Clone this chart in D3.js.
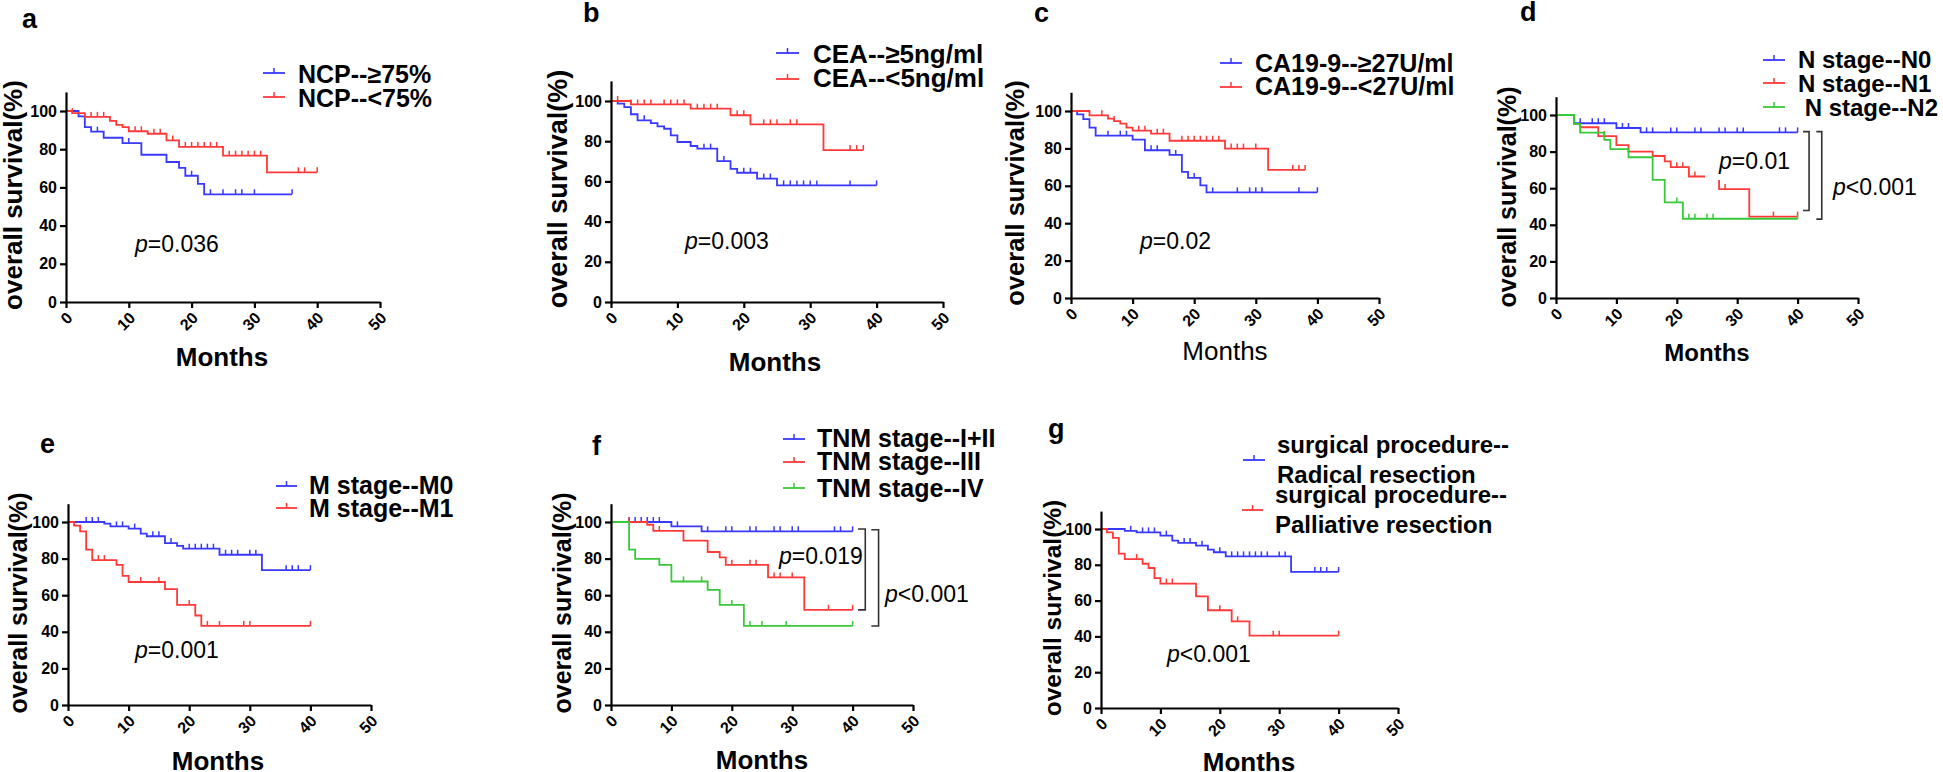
<!DOCTYPE html>
<html>
<head>
<meta charset="utf-8">
<title>Overall survival</title>
<style>
  body { margin: 0; background: #fff; }
  svg text { font-family: "Liberation Sans", Arial, sans-serif; fill: #000; }
</style>
</head>
<body>
<script src="https://cdnjs.cloudflare.com/ajax/libs/d3/7.8.5/d3.min.js"></script>
<script>

// ---- tick labels
var monthTicks = [0, 10, 20, 30, 40, 50];
var survTicks = [0, 20, 40, 60, 80, 100];

// ---- a: NCP
var aGroups = ["NCP--≥75%", "NCP--<75%"];
var aBlueT = [2, 3, 4, 6, 9, 12, 16, 18, 19, 21, 22];
var aBlueS = [97.2, 91.6, 89.2, 86.0, 83.2, 77.1, 73.3, 70.2, 66.1, 61.8, 56.4];
var aBlueC = [5, 10, 20, 23, 25, 27, 28, 30, 36];
var aRedT = [1, 3, 7, 8, 9, 10, 13, 16, 18, 25, 32];
var aRedS = [98.9, 96.9, 94.8, 92.7, 91.6, 89.4, 88.1, 84.6, 81.2, 76.6, 67.9];
var aRedC = [1, 4, 5, 6, 11, 12, 14, 15, 17, 19, 20, 21, 22, 23, 24, 26, 27, 28, 29, 30, 31, 37, 38, 40];

// ---- b: CEA
var bGroups = ["CEA--≥5ng/ml", "CEA--<5ng/ml"];
var bBlueT = [1, 2, 3, 4, 6, 7, 8, 9, 10, 12, 13, 16, 18, 19, 22, 25];
var bBlueS = [98.7, 97, 93.4, 90.4, 89, 87.4, 86.2, 82.9, 79.6, 77.6, 76.3, 70.1, 66.2, 64.3, 61.4, 58];
var bBlueC = [5, 14, 15, 17, 20, 21, 23, 24, 26, 27, 28, 29, 30, 31, 36, 40];
var bRedT = [3, 12, 18, 21, 32];
var bRedS = [98.3, 96.2, 92.9, 88.4, 75.6];
var bRedC = [1, 3, 4, 5, 6, 8, 9, 10, 11, 13, 14, 15, 16, 19, 20, 23, 24, 25, 27, 28, 36, 37, 38];

// ---- c: CA19-9
var cGroups = ["CA19-9--≥27U/ml", "CA19-9--<27U/ml"];
var cBlueT = [1, 2, 3, 4, 10, 12, 16, 18, 19, 21, 22];
var cBlueS = [98.2, 95.7, 91.1, 86.8, 84.7, 79, 76.5, 67.4, 64.2, 60.2, 56.5];
var cBlueC = [6, 8, 9, 13, 14, 17, 20, 23, 27, 29, 30, 31, 37, 40];
var cRedT = [3, 6, 7, 8, 9, 10, 13, 16, 25, 32];
var cRedS = [97.7, 95.9, 94.6, 93.2, 91.1, 89.5, 87.9, 84.1, 79.9, 68.5];
var cRedC = [5, 7, 11, 12, 14, 15, 18, 19, 20, 21, 22, 23, 24, 26, 27, 28, 30, 36, 37, 38];

// ---- d: N stage
var dGroups = ["N stage--N0", "N stage--N1", " N stage--N2"];
var dN0T = [3, 10, 14];
var dN0S = [95.5, 92.9, 90.5];
var dN0C = [4, 6, 7, 8, 11, 12, 15, 16, 19, 20, 23, 24, 27, 28, 30, 31, 37, 38, 40];
var dN1T = [3, 4, 7, 10, 12, 16, 18, 19, 22, 27, 32];
var dN1S = [95.1, 93.3, 88.5, 83.5, 80, 77.6, 74.7, 71.5, 66.4, 59.5, 44.5];
var dN1C = [8, 20, 21, 23, 28, 36, 40];
var dN2T = [3, 4, 8, 9, 12, 16, 18, 21];
var dN2S = [95.1, 90.4, 86.4, 81.3, 76.9, 64.5, 52.2, 43.3];
var dN2C = [20, 22, 23, 25, 26, 40];

// ---- e: M stage
var eGroups = ["M stage--M0", "M stage--M1"];
var eM0T = [6, 7, 10, 12, 13, 16, 18, 19, 25, 32];
var eM0S = [99.1, 97.6, 96.4, 93.6, 92.2, 88.5, 87, 85.4, 82.1, 73.7];
var eM0C = [3, 4, 5, 8, 9, 11, 14, 15, 17, 20, 21, 22, 23, 24, 26, 27, 28, 30, 31, 36, 37, 38, 40];
var eM1T = [1, 2, 3, 4, 8, 9, 10, 16, 18, 21, 22];
var eM1S = [98, 94.9, 84.9, 79.2, 76.6, 70.6, 67.2, 63.3, 54.7, 48.9, 43.2];
var eM1C = [5, 6, 12, 15, 20, 23, 25, 29, 30, 40];

// ---- f: TNM stage
var fGroups = ["TNM stage--I+II", "TNM stage--III", "TNM stage--IV"];
var fI2T = [10, 15];
var fI2S = [97.6, 94.9];
var fI2C = [3, 4, 5, 6, 7, 8, 11, 16, 19, 20, 23, 24, 27, 28, 30, 31, 37, 38, 40];
var fIIIT = [6, 7, 12, 16, 18, 19, 26, 32];
var fIIIS = [98.5, 95.1, 89.8, 83.6, 80.7, 76.6, 69.7, 52];
var fIIIC = [3, 8, 20, 23, 24, 27, 28, 30, 36, 40];
var fIVT = [3, 4, 8, 10, 16, 18, 22];
var fIVS = [84.9, 79.8, 76.6, 67.5, 62.9, 54.7, 43.2];
var fIVC = [12, 15, 20, 23, 25, 29, 40];

// ---- g: surgical procedure
var gGroups = [["surgical procedure--", "Radical resection"], ["surgical procedure--", "Palliative resection"]];
var gRadT = [4, 6, 10, 12, 13, 16, 18, 19, 21, 32];
var gRadS = [99, 98.1, 96.3, 93.5, 92.2, 90.7, 88.5, 87, 84.7, 76];
var gRadC = [5, 7, 8, 9, 11, 14, 15, 17, 20, 22, 23, 24, 25, 26, 27, 28, 30, 31, 36, 37, 38, 40];
var gPalT = [1, 2, 3, 4, 7, 8, 9, 10, 16, 18, 22, 25];
var gPalS = [98.1, 95, 86.2, 83.2, 80.6, 78.2, 72.6, 69.5, 62.4, 54.6, 48.4, 40.4];
var gPalC = [6, 11, 12, 20, 23, 29, 30, 40];

// ---- p values
var pA = ["=", "0.036"], pB = ["=", "0.003"], pC = ["=", "0.02"];
var pD = [["=", "0.01"], ["<", "0.001"]];
var pE = ["=", "0.001"];
var pF = [["=", "0.019"], ["<", "0.001"]];
var pG = ["<", "0.001"];

var BLUE = "#3838ff", RED = "#ff3838", GREEN = "#38c838";

var svg = d3.select("body").append("svg")
    .attr("width", 1943)
    .attr("height", 772);

function ser(t, s, c, color) {
    return {t: t, s: s, c: c, color: color};
}

var panels = [
    {label: "a", lx: 22, ly: 28, x0: 66, x50: 380, y0: 302, y100: 111,
     title: [13, 195, 26], months: [222, 366, 26, "bold"],
     series: [ser(aBlueT, aBlueS, aBlueC, BLUE), ser(aRedT, aRedS, aRedC, RED)],
     leg: {x1: 263, x2: 285, ys: [73, 97], tx: 298, tys: [83, 107], size: 25, names: aGroups},
     p: [[135, 252, pA]]},
    {label: "b", lx: 583, ly: 22, x0: 611, x50: 943, y0: 302, y100: 101,
     title: [558, 189, 27], months: [775, 371, 26, "bold"],
     series: [ser(bBlueT, bBlueS, bBlueC, BLUE), ser(bRedT, bRedS, bRedC, RED)],
     leg: {x1: 776, x2: 799, ys: [53, 79], tx: 813, tys: [63, 87], size: 26, names: bGroups},
     p: [[685, 249, pB]]},
    {label: "c", lx: 1034, ly: 22, x0: 1071, x50: 1379, y0: 298, y100: 111,
     title: [1015, 193, 25.5], months: [1225, 360, 26, "normal"],
     series: [ser(cBlueT, cBlueS, cBlueC, BLUE), ser(cRedT, cRedS, cRedC, RED)],
     leg: {x1: 1220, x2: 1242, ys: [63, 87], tx: 1255, tys: [72, 95], size: 25, names: cGroups},
     p: [[1140, 249, pC]]},
    {label: "d", lx: 1520, ly: 21, x0: 1556, x50: 1858, y0: 298, y100: 115,
     title: [1507, 197, 25], months: [1707, 361, 24, "bold"],
     series: [ser(dN0T, dN0S, dN0C, BLUE), ser(dN1T, dN1S, dN1C, RED), ser(dN2T, dN2S, dN2C, GREEN)],
     leg: {x1: 1763, x2: 1785, ys: [60, 83, 107], tx: 1798, tys: [68, 92, 116], size: 24, names: dGroups},
     p: [[1719, 169, pD[0], true], [1833, 195, pD[1]]],
     brackets: [[40.9, 41.9, 90.9, 47.8], [43.1, 44, 90.9, 43.1]]},
    {label: "e", lx: 40, ly: 453, x0: 68, x50: 371, y0: 705, y100: 522,
     title: [18, 603, 25], months: [218, 770, 26, "bold"],
     series: [ser(eM0T, eM0S, eM0C, BLUE), ser(eM1T, eM1S, eM1C, RED)],
     leg: {x1: 276, x2: 297, ys: [486, 508], tx: 309, tys: [494, 517], size: 25, names: eGroups},
     p: [[135, 658, pE]]},
    {label: "f", lx: 592, ly: 455, x0: 611, x50: 913, y0: 705, y100: 522,
     title: [562, 603, 25], months: [762, 769, 26, "bold"],
     series: [ser(fI2T, fI2S, fI2C, BLUE), ser(fIIIT, fIIIS, fIIIC, RED), ser(fIVT, fIVS, fIVC, GREEN)],
     leg: {x1: 783, x2: 805, ys: [439, 462, 488], tx: 817, tys: [447, 470, 497], size: 25, names: fGroups},
     p: [[779, 564, pF[0]], [885, 602, pF[1]]],
     brackets: [[40.9, 42.1, 96.2, 52], [43.1, 44.3, 95.8, 43.2]]},
    {label: "g", lx: 1048, ly: 438, x0: 1101, x50: 1398, y0: 708, y100: 529,
     title: [1052, 608, 24.5], months: [1249, 771, 26, "bold"],
     series: [ser(gRadT, gRadS, gRadC, BLUE), ser(gPalT, gPalS, gPalC, RED)],
     leg: {x1: 1243, x2: 1265, ys: [460, 510], tx: 1277, tys: [[453, 483], [503, 533]], size: 24, names: gGroups},
     p: [[1167, 662, pG]]}
];

panels.forEach(drawPanel);

function survAt(sr, t) {
    var v = 100;
    sr.t.forEach(function(tt, i) { if (tt <= t) v = sr.s[i]; });
    return v;
}

function drawPanel(p) {
    var g = svg.append("g");
    var x = d3.scaleLinear().domain([0, 50]).range([p.x0, p.x50]);
    var y = d3.scaleLinear().domain([0, 100]).range([p.y0, p.y100]);
    var yAx = y.copy().domain([0, 110]).range([p.y0, y(110)]);

    // curves
    p.series.forEach(function(sr) {
        var end = d3.max(sr.c.concat(sr.t));
        var pts = [[0, 100]].concat(sr.t.map(function(t, i) { return [t, sr.s[i]]; }));
        pts.push([end, sr.s[sr.s.length - 1]]);
        g.append("path")
            .attr("d", d3.line().curve(d3.curveStepAfter)
                .x(function(d) { return x(d[0]); })
                .y(function(d) { return y(d[1]); })(pts))
            .attr("fill", "none")
            .attr("stroke", sr.color)
            .attr("stroke-width", 1.8);
        g.selectAll(null)
            .data(sr.c)
            .enter()
            .append("line")
            .attr("x1", function(d) { return x(d); })
            .attr("x2", function(d) { return x(d); })
            .attr("y1", function(d) { return y(survAt(sr, d)); })
            .attr("y2", function(d) { return y(survAt(sr, d)) - 5; })
            .attr("stroke", sr.color)
            .attr("stroke-width", 1.5);
    });

    // axes
    var ya = g.append("g")
        .attr("transform", "translate(" + p.x0 + ",0)")
        .call(d3.axisLeft(yAx).tickValues(survTicks).tickSize(6).tickSizeOuter(0));
    var xa = g.append("g")
        .attr("transform", "translate(0," + p.y0 + ")")
        .call(d3.axisBottom(x).tickValues(monthTicks).tickSize(6).tickSizeOuter(0));
    [ya, xa].forEach(function(a) {
        a.selectAll("path, line").attr("stroke", "#000").attr("stroke-width", 2.2);
        a.selectAll("text")
            .attr("font-family", "'Liberation Sans', Arial, sans-serif")
            .attr("font-size", 16)
            .attr("font-weight", "bold")
            .attr("fill", "#000");
    });
    ya.selectAll("text").attr("x", -9);
    xa.selectAll("text")
        .attr("x", 0).attr("y", 0).attr("dy", "0.35em")
        .attr("text-anchor", "end")
        .attr("transform", "translate(3,13) rotate(-45)");

    // p values
    p.p.forEach(function(pp) {
        if (pp[3]) {
            g.append("rect")
                .attr("x", pp[0] - 14).attr("y", pp[1] - 21)
                .attr("width", 86).attr("height", 32)
                .attr("fill", "#fff");
        }
        var t = g.append("text")
            .attr("x", pp[0]).attr("y", pp[1])
            .attr("font-size", 23);
        t.append("tspan").attr("font-style", "italic").text("p");
        t.append("tspan").text(pp[2][0] + pp[2][1]);
    });

    // brackets
    (p.brackets || []).forEach(function(b) {
        g.append("path")
            .attr("d", "M" + x(b[0]) + "," + y(b[2]) + "H" + x(b[1]) + "V" + y(b[3]) + "H" + x(b[0]))
            .attr("fill", "none")
            .attr("stroke", "#333")
            .attr("stroke-width", 1.6);
    });

    // panel label
    g.append("text").attr("x", p.lx).attr("y", p.ly)
        .attr("font-size", 27).attr("font-weight", "bold").text(p.label);

    // y title
    g.append("text")
        .attr("transform", "translate(" + p.title[0] + "," + p.title[1] + ") rotate(-90)")
        .attr("text-anchor", "middle")
        .attr("dy", "0.35em")
        .attr("font-size", p.title[2])
        .attr("font-weight", "bold")
        .text("overall survival(%)");

    // x title
    g.append("text")
        .attr("x", p.months[0]).attr("y", p.months[1])
        .attr("text-anchor", "middle")
        .attr("font-size", p.months[2])
        .attr("font-weight", p.months[3])
        .text("Months");

    // legend
    var L = p.leg;
    p.series.forEach(function(sr, i) {
        var ly = L.ys[i];
        var x1 = L.x1 - (p.label === "g" && i === 1 ? 1 : 0);
        var x2 = L.x2 - (p.label === "g" && i === 1 ? 2 : 0);
        g.append("line").attr("x1", x1).attr("x2", x2).attr("y1", ly).attr("y2", ly)
            .attr("stroke", sr.color).attr("stroke-width", 1.8);
        g.append("line").attr("x1", (x1 + x2) / 2).attr("x2", (x1 + x2) / 2)
            .attr("y1", ly).attr("y2", ly - 5)
            .attr("stroke", sr.color).attr("stroke-width", 1.5);
        var name = L.names[i];
        var lines = Array.isArray(name) ? name : [name];
        var tys = Array.isArray(L.tys[i]) ? L.tys[i] : [L.tys[i]];
        lines.forEach(function(s, j) {
            g.append("text")
                .attr("x", L.tx - (p.label === "g" && i === 1 ? 2 : 0))
                .attr("y", tys[j])
                .attr("font-size", L.size)
                .attr("font-weight", "bold")
                .attr("xml:space", "preserve")
                .style("white-space", "pre")
                .text(s);
        });
    });
}
</script>
</body>
</html>
